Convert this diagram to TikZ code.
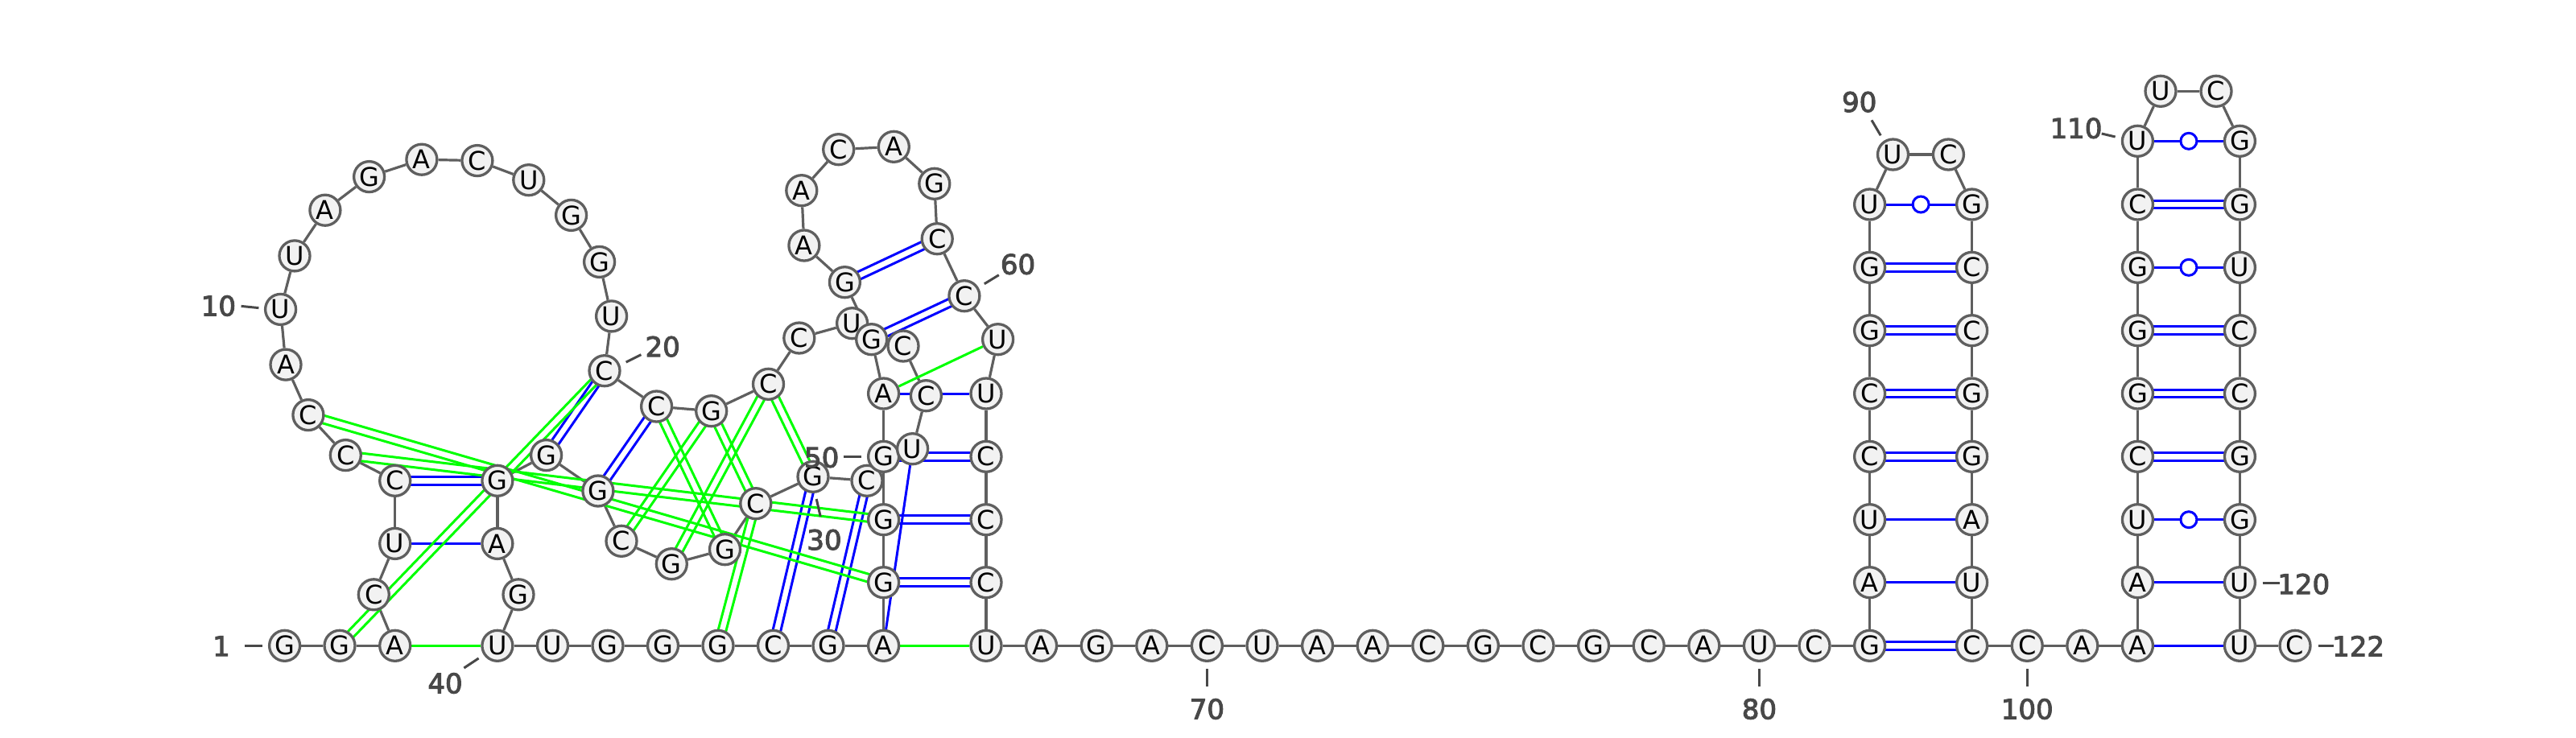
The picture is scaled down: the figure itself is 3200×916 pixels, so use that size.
\documentclass[tikz,border=0pt]{standalone}
\usepackage{fontspec}
\setmainfont{DejaVu Sans}
\newfontfamily\labfont[FakeBold=3]{DejaVu Sans}
\usetikzlibrary{calc,backgrounds}
\definecolor{ntfill}{HTML}{F2F2F2}
\definecolor{ntline}{HTML}{5F5F5F}
\definecolor{labcol}{HTML}{484848}
\definecolor{pgreen}{HTML}{00FF00}
\definecolor{pblue}{HTML}{0000FF}
\tikzset{
  nt/.style={circle,draw=ntline,fill=ntfill,line width=3.3pt,minimum size=38pt,inner sep=0pt,text=black,font=\fontsize{32}{32}\selectfont},
  bb/.style={draw=ntline,line width=3.2pt},
  bp/.style={draw=pblue,line width=3pt},
  gp/.style={draw=pgreen,line width=3pt},
  wob/.style={circle,draw=pblue,fill=white,line width=3pt,minimum size=20pt,inner sep=0pt},
  lab/.style={text=labcol,font=\fontsize{34}{34}\labfont,inner sep=0pt},
  tick/.style={draw=labcol,line width=3pt}
}
\newcommand{\dbl}[3]{\draw[#1] ($(#2)!4.85pt!90:(#3)$) -- ($(#3)!4.85pt!-90:(#2)$);\draw[#1] ($(#2)!4.85pt!-90:(#3)$) -- ($(#3)!4.85pt!90:(#2)$);}
\newcommand{\wobpair}[2]{\draw[bp] (#1) -- node[wob] (w#1) {} (#2);}
\newcommand{\seqlab}[7]{\node[lab] (l#1) at (#3,#4) {#2};\coordinate (ta#1) at (#5,#6);\coordinate (tb#1) at (#7);\draw[tick] (ta#1) -- (tb#1);}
\begin{document}
\begin{tikzpicture}[x=1pt,y=-1pt]
\useasboundingbox (0,0) rectangle (3200,916);
\foreach \nn/\ltr/\xx/\yy in {
1/G/353.6/802.3,2/G/422/802.3,3/A/490.7/802.3,4/C/464.3/738.8,5/U/490.7/675.4,
6/C/490.7/597.3,7/C/429.3/565.6,8/C/382.9/515.6,9/A/355/453.1,10/U/348.6/384.4,
11/U/366/317.9,12/A/403.9/261.2,13/G/458.6/219.6,14/A/523.9/198.2,15/C/592.9/199.6,
16/U/656.8/223.7,17/G/709.6/267.4,18/G/744.6/325.4,19/U/759.6/392.9,20/C/751/460.7,
21/C/815.6/505,22/G/883.7/510.7,23/C/954.5/477.3,24/C/992.8/420,25/U/1058.6/401.7,
27/C/1150.4/491.7,29/C/1077/597.3,30/G/1010/592.3,
31/C/938.8/625.7,32/G/900.5/682.7,33/G/834.3/700.7,34/C/772/672.3,35/G/742.9/610,
36/G/678.6/565.6,37/G/617.9/597.3,38/A/617.9/675.4,39/G/644/738.8,40/U/617.9/802.3,
41/U/686.5/802.3,42/G/755/802.3,43/G/823.5/802.3,44/G/892/802.3,45/C/960.5/802.3,
46/G/1029/802.3,47/A/1097.6/802.3,48/G/1097.6/723.7,49/G/1097.6/645.7,50/G/1097.6/567.3,
51/A/1097.6/489,52/G/1082.7/421.7,26/C/1122/430,28/U/1133.6/557.7,
53/G/1049.4/350.7,54/A/998.9/305,55/A/995.8/236.7,
56/C/1041.7/185.7,57/A/1110.3/182.3,58/G/1160.8/228.3,59/C/1164.2/296.7,60/C/1197.9/367.7,
61/U/1239.6/421.7,62/U/1225/489,63/C/1225/567.3,64/C/1225/645.7,65/C/1225/723.7,
66/U/1225/802.3,67/A/1293.6/802.3,68/G/1362.2/802.3,69/A/1430.8/802.3,70/C/1499.4/802.3,
71/U/1568/802.3,72/A/1636.6/802.3,73/A/1705.2/802.3,74/C/1773.8/802.3,75/G/1842.4/802.3,
76/C/1911/802.3,77/G/1979.6/802.3,78/C/2048.2/802.3,79/A/2116.8/802.3,80/U/2185.4/802.3,
81/C/2254/802.3,82/G/2322.6/802.3,83/A/2322.6/723.7,84/U/2322.6/645.7,85/C/2322.6/567.3,
86/C/2322.6/489,87/G/2322.6/410.7,88/G/2322.6/332.3,89/U/2322.6/254,90/U/2351.5/192,
91/C/2420.4/192,92/G/2449.6/254,93/C/2449.6/332.3,94/C/2449.6/410.7,95/G/2449.6/489,
96/G/2449.6/567.3,97/A/2449.6/645.7,98/U/2449.6/723.7,99/C/2449.6/802.3,100/C/2518.2/802.3,
101/A/2586.8/802.3,102/A/2655.4/802.3,103/A/2655.4/723.7,104/U/2655.4/645.7,105/C/2655.4/567.3,
106/G/2655.4/489,107/G/2655.4/410.7,108/G/2655.4/332.3,109/C/2655.4/254,110/U/2655.4/175.3,
111/U/2684/113.3,112/C/2753/113.3,113/G/2782.4/175.3,114/G/2782.4/254,115/U/2782.4/332.3,
116/C/2782.4/410.7,117/C/2782.4/489,118/G/2782.4/567.3,119/G/2782.4/645.7,120/U/2782.4/723.7,
121/U/2782.4/802.3,122/C/2851/802.3}
  {\node[nt] (n\nn) at (\xx,\yy) {\ltr};}
\begin{pgfonlayer}{background}
  \foreach \i in {1,...,121} {\pgfmathtruncatemacro{\j}{\i+1}\draw[bb] (n\i) -- (n\j);}
  % blue pairs
  \draw[bp] (n5) -- (n38);
  \draw[bp] (n28) -- (n47);
  \draw[bp] (n51) -- (n62);
  \draw[bp] (n83) -- (n98);
  \draw[bp] (n84) -- (n97);
  \draw[bp] (n102) -- (n121);
  \draw[bp] (n103) -- (n120);
  \dbl{bp}{n6}{n37}
  \dbl{bp}{n20}{n36}
  \dbl{bp}{n21}{n35}
  \dbl{bp}{n30}{n45}
  \dbl{bp}{n29}{n46}
  \dbl{bp}{n48}{n65}
  \dbl{bp}{n49}{n64}
  \dbl{bp}{n50}{n63}
  \dbl{bp}{n52}{n60}
  \dbl{bp}{n53}{n59}
  \dbl{bp}{n82}{n99}
  \dbl{bp}{n85}{n96}
  \dbl{bp}{n86}{n95}
  \dbl{bp}{n87}{n94}
  \dbl{bp}{n88}{n93}
  \dbl{bp}{n105}{n118}
  \dbl{bp}{n106}{n117}
  \dbl{bp}{n107}{n116}
  \dbl{bp}{n109}{n114}
  \wobpair{n89}{n92}
  \wobpair{n104}{n119}
  \wobpair{n108}{n115}
  \wobpair{n110}{n113}
  % green contacts
  \draw[gp] (n3) -- (n40);
  \draw[gp] (n47) -- (n66);
  \draw[gp] (n51) -- (n61);
  \dbl{gp}{n2}{n20}
  \dbl{gp}{n7}{n49}
  \dbl{gp}{n8}{n48}
  \dbl{gp}{n21}{n32}
  \dbl{gp}{n22}{n31}
  \dbl{gp}{n22}{n34}
  \dbl{gp}{n23}{n30}
  \dbl{gp}{n23}{n33}
  \dbl{gp}{n44}{n31}
\end{pgfonlayer}
\seqlab{1}{1}{275}{802.7}{303.6}{802.3}{325.7,802.3}
\seqlab{10}{10}{271.4}{380}{299.6}{380.4}{321.4,382.6}
\seqlab{20}{20}{823.2}{430.7}{777.7}{450}{796.4,440.7}
\seqlab{30}{30}{1024}{670.7}{1014.2}{620}{1019.2,641.7}
\seqlab{40}{40}{553}{849}{576.4}{830}{594.6,817.9}
\seqlab{50}{50}{1020.7}{568.3}{1047.5}{567.3}{1069.7,567.3}
\seqlab{60}{60}{1264.5}{328.3}{1222.8}{352.7}{1240.8,341.7}
\seqlab{70}{70}{1499.4}{881}{1499.4}{831}{1499.4,852.7}
\seqlab{80}{80}{2185.4}{881}{2185.4}{831}{2185.4,852.7}
\seqlab{90}{90}{2309.7}{126.7}{2325}{149.3}{2336.2,168.3}
\seqlab{100}{100}{2518.2}{881}{2518.2}{831}{2518.2,852.7}
\seqlab{110}{110}{2579}{159.3}{2610.7}{166}{2627.6,170}
\seqlab{120}{120}{2861.7}{725.7}{2810.7}{724.3}{2831.6,724.3}
\seqlab{122}{122}{2929.6}{802.7}{2879.6}{802.3}{2899,802.3}
\end{tikzpicture}
\end{document}
